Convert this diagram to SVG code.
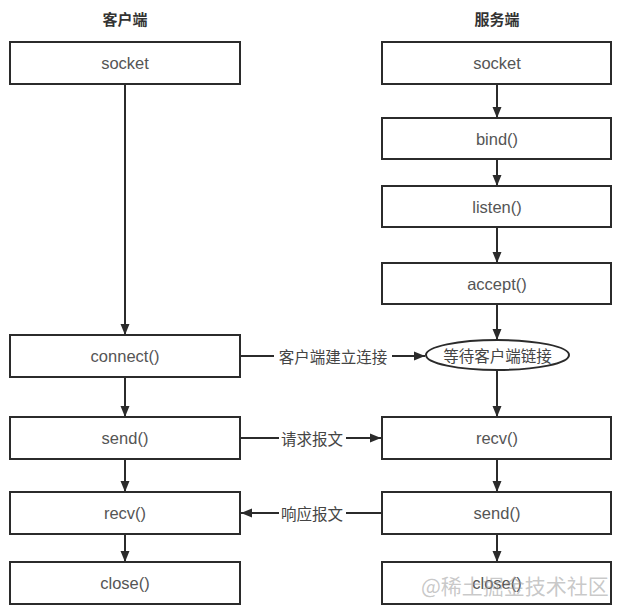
<svg xmlns="http://www.w3.org/2000/svg" width="641" height="612" viewBox="0 0 641 612">
<defs>
<style>
.box{fill:#fff;stroke:#2b2b2b;stroke-width:2}
.lbl{font-family:"Liberation Sans",Arial,"Noto Sans CJK SC",sans-serif;font-size:16.5px;fill:#555;text-anchor:middle;dominant-baseline:central}
.hdr{font-family:"Noto Sans CJK SC","Liberation Sans",sans-serif;font-size:15px;font-weight:bold;fill:#333;text-anchor:middle;dominant-baseline:central}
.elbl{font-family:"Noto Sans CJK SC","Liberation Sans",sans-serif;font-size:15.5px;fill:#444;text-anchor:middle;dominant-baseline:central}
.edge{fill:none;stroke:#2b2b2b;stroke-width:2;marker-end:url(#arr)}
.bg{fill:#fff}
.wm{font-family:"Noto Sans CJK SC","Liberation Sans",sans-serif;font-size:21px;fill:#9a9a9a;fill-opacity:0.55}
</style>
<marker id="arr" markerUnits="userSpaceOnUse" markerWidth="12" markerHeight="12" viewBox="0 0 12 12" refX="11" refY="6" orient="auto">
<path d="M0,1.5 L11,6 L0,10.5 Z" fill="#2b2b2b"/>
</marker>
</defs>
<rect width="641" height="612" fill="#fff"/>

<g id="headers">
<text class="hdr" x="125" y="18">客户端</text>
<text class="hdr" x="497" y="18">服务端</text>
</g>

<g id="connectors">
<line class="edge" x1="125" y1="84" x2="125" y2="335"/>
<line class="edge" x1="125" y1="377" x2="125" y2="417"/>
<line class="edge" x1="125" y1="459" x2="125" y2="492"/>
<line class="edge" x1="125" y1="534" x2="125" y2="562"/>
<line class="edge" x1="497" y1="84" x2="497" y2="118"/>
<line class="edge" x1="497" y1="159" x2="497" y2="186"/>
<line class="edge" x1="497" y1="227" x2="497" y2="263"/>
<line class="edge" x1="497" y1="304" x2="497" y2="340"/>
<line class="edge" x1="497" y1="370" x2="497" y2="417"/>
<line class="edge" x1="497" y1="459" x2="497" y2="492"/>
<line class="edge" x1="497" y1="534" x2="497" y2="562"/>
<line class="edge" x1="241" y1="356" x2="425" y2="356"/>
<rect class="bg" x="274" y="346" width="118" height="20"/>
<text class="elbl" x="333" y="356">客户端建立连接</text>
<line class="edge" x1="241" y1="438" x2="381" y2="438"/>
<rect class="bg" x="279" y="428" width="67" height="20"/>
<text class="elbl" x="312" y="438">请求报文</text>
<line class="edge" x1="381" y1="513" x2="241" y2="513"/>
<rect class="bg" x="279" y="503" width="67" height="20"/>
<text class="elbl" x="312" y="513">响应报文</text>
</g>

<g id="c_socket"><rect class="box" x="10" y="42" width="230" height="42"/><text class="lbl" x="125" y="63">socket</text></g>
<g id="c_connect"><rect class="box" x="10" y="335" width="230" height="42"/><text class="lbl" x="125" y="356">connect()</text></g>
<g id="c_send"><rect class="box" x="10" y="417" width="230" height="42"/><text class="lbl" x="125" y="438">send()</text></g>
<g id="c_recv"><rect class="box" x="10" y="492" width="230" height="42"/><text class="lbl" x="125" y="513">recv()</text></g>
<g id="c_close"><rect class="box" x="10" y="562" width="230" height="42"/><text class="lbl" x="125" y="583">close()</text></g>

<g id="s_socket"><rect class="box" x="382" y="42" width="229" height="42"/><text class="lbl" x="497" y="63">socket</text></g>
<g id="s_bind"><rect class="box" x="382" y="118" width="229" height="41"/><text class="lbl" x="497" y="138.5">bind()</text></g>
<g id="s_listen"><rect class="box" x="382" y="186" width="229" height="41"/><text class="lbl" x="497" y="206.5">listen()</text></g>
<g id="s_accept"><rect class="box" x="382" y="263" width="229" height="41"/><text class="lbl" x="497" y="283.5">accept()</text></g>
<g id="s_wait"><ellipse class="box" cx="497.5" cy="355" rx="71.5" ry="15"/><text class="elbl" x="497.5" y="355">等待客户端链接</text></g>
<g id="s_recv"><rect class="box" x="382" y="417" width="229" height="42"/><text class="lbl" x="497" y="438">recv()</text></g>
<g id="s_send"><rect class="box" x="382" y="492" width="229" height="42"/><text class="lbl" x="497" y="513">send()</text></g>
<g id="s_close"><rect class="box" x="382" y="562" width="229" height="42"/><text class="lbl" x="497" y="583">close()</text></g>

<text class="wm" x="421" y="594">@稀土掘金技术社区</text>
</svg>
